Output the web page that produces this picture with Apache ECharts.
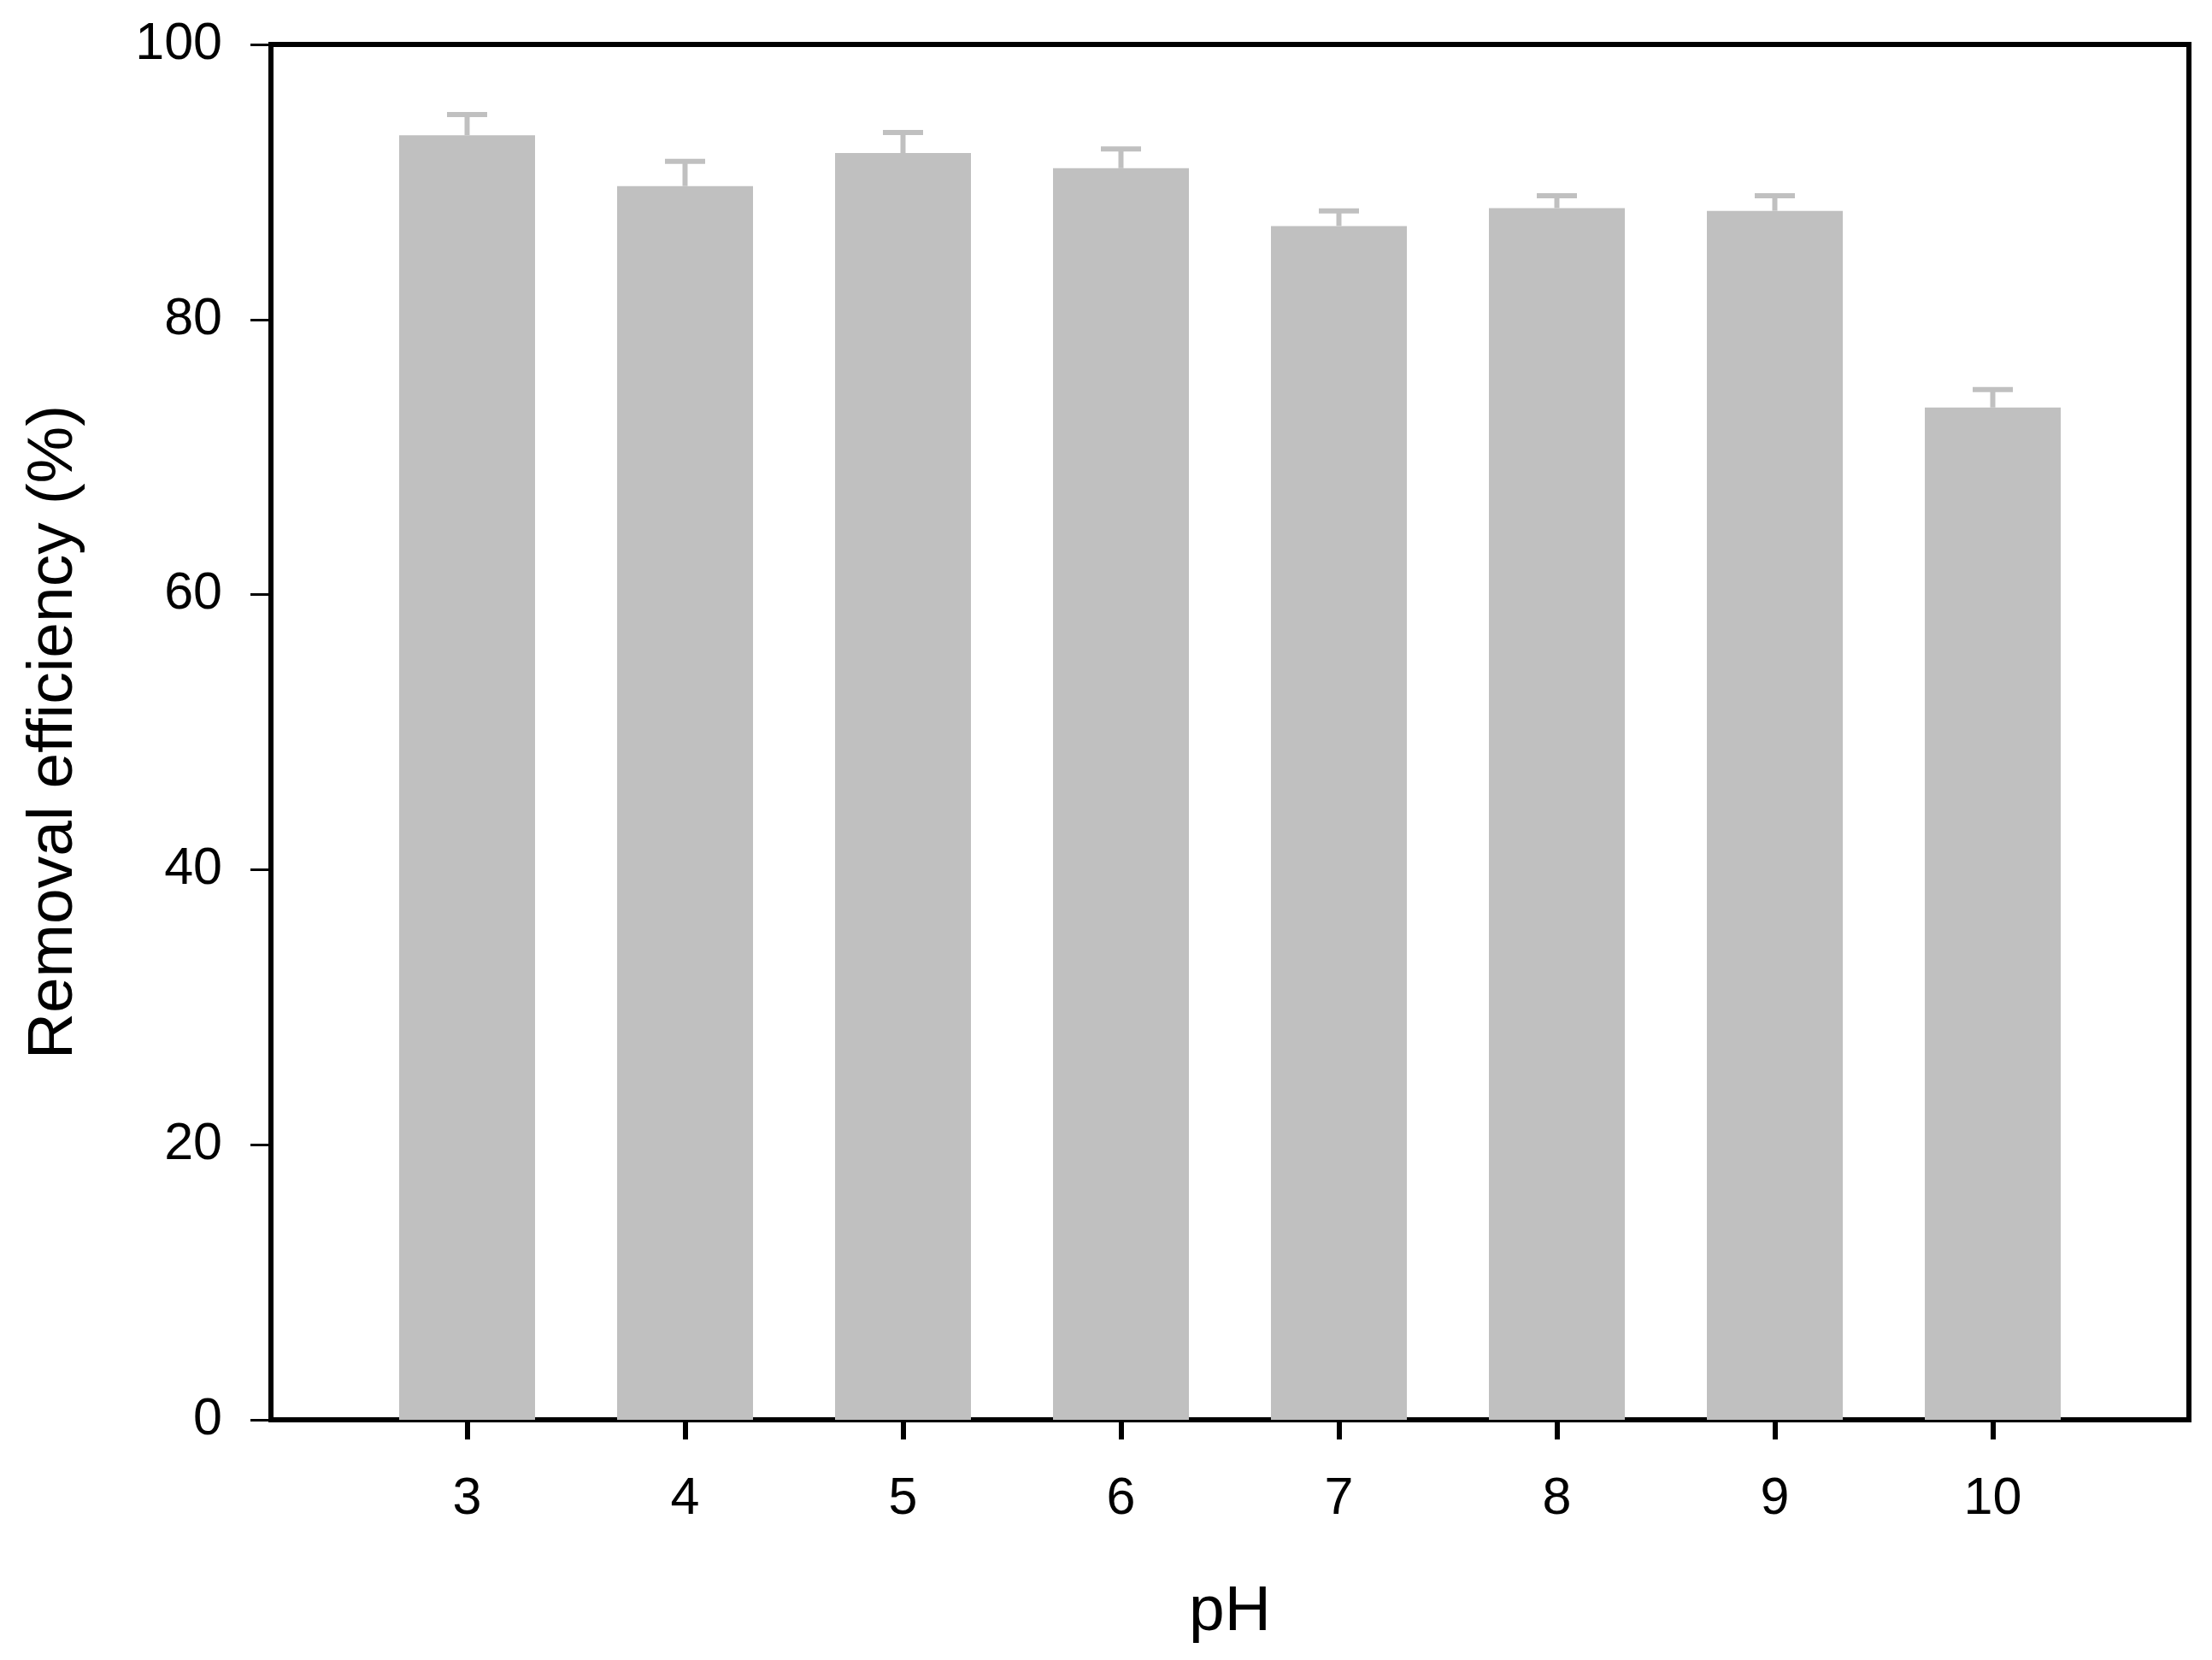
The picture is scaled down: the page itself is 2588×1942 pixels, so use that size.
<!DOCTYPE html>
<html>
<head>
<meta charset="utf-8">
<script src="https://cdn.jsdelivr.net/npm/echarts@6/dist/echarts.min.js"></script>
<style>
html,body{margin:0;padding:0;background:#fff;}
#chart{width:2588px;height:1942px;}
</style>
</head>
<body>
<div id="chart"></div>
<script>
const phValues = [3, 4, 5, 6, 7, 8, 9, 10];
const removalEfficiency = [93.4, 89.7, 92.1, 91.0, 86.8, 88.1, 87.9, 73.6];
const errorValues = [1.5, 1.8, 1.5, 1.4, 1.1, 0.9, 1.1, 1.3];
const yTicks = [0, 20, 40, 60, 80, 100];

const FONT = 'Liberation Sans, Arial, sans-serif';
const barData = phValues.map((x, i) => [x, removalEfficiency[i]]);
const errData = phValues.map((x, i) => [x, removalEfficiency[i], errorValues[i]]);

const chart = echarts.init(document.getElementById('chart'), null, {renderer: 'canvas'});
chart.setOption({
  animation: false,
  backgroundColor: '#ffffff',
  grid: {
    left: 317, right: 27, top: 52, bottom: 281,
    show: true, borderColor: '#000', borderWidth: 6, backgroundColor: 'transparent'
  },
  xAxis: {
    type: 'value',
    min: 2.1, max: 10.9,
    name: 'pH',
    nameLocation: 'middle',
    nameGap: 188,
    nameTextStyle: {fontFamily: FONT, fontSize: 75, color: '#000'},
    axisLine: {show: true, onZero: false, lineStyle: {color: '#000', width: 6}},
    axisTick: {show: true, length: 23, customValues: phValues, lineStyle: {color: '#000', width: 6}},
    axisLabel: {customValues: phValues, margin: 63, fontFamily: FONT, fontSize: 61, color: '#000'},
    splitLine: {show: false}
  },
  yAxis: {
    type: 'value',
    min: 0, max: 100, interval: 20,
    name: 'Removal efficiency (%)',
    nameLocation: 'middle',
    nameGap: 216,
    nameTextStyle: {fontFamily: FONT, fontSize: 75, color: '#000'},
    axisLine: {show: true, lineStyle: {color: '#000', width: 6}},
    axisTick: {show: true, length: 24, lineStyle: {color: '#000', width: 3}},
    axisLabel: {margin: 57, fontFamily: FONT, fontSize: 61, color: '#000',
      formatter: v => yTicks.includes(v) ? String(v) : ''},
    splitLine: {show: false}
  },
  series: [
    {
      type: 'bar',
      data: barData,
      barWidth: 159,
      itemStyle: {color: '#c0c0c0'},
      z: 2
    },
    {
      type: 'custom',
      data: errData,
      z: 3,
      renderItem: function (params, api) {
        const x = api.value(0), y = api.value(1), e = api.value(2);
        const base = api.coord([x, y]);
        const top = api.coord([x, y + e]);
        const half = 23.5;
        const style = {stroke: '#c0c0c0', lineWidth: 6};
        return {
          type: 'group',
          children: [
            {type: 'line', shape: {x1: base[0], y1: base[1], x2: top[0], y2: top[1]}, style: style},
            {type: 'line', shape: {x1: top[0] - half, y1: top[1], x2: top[0] + half, y2: top[1]}, style: style}
          ]
        };
      }
    }
  ]
});
</script>
</body>
</html>
